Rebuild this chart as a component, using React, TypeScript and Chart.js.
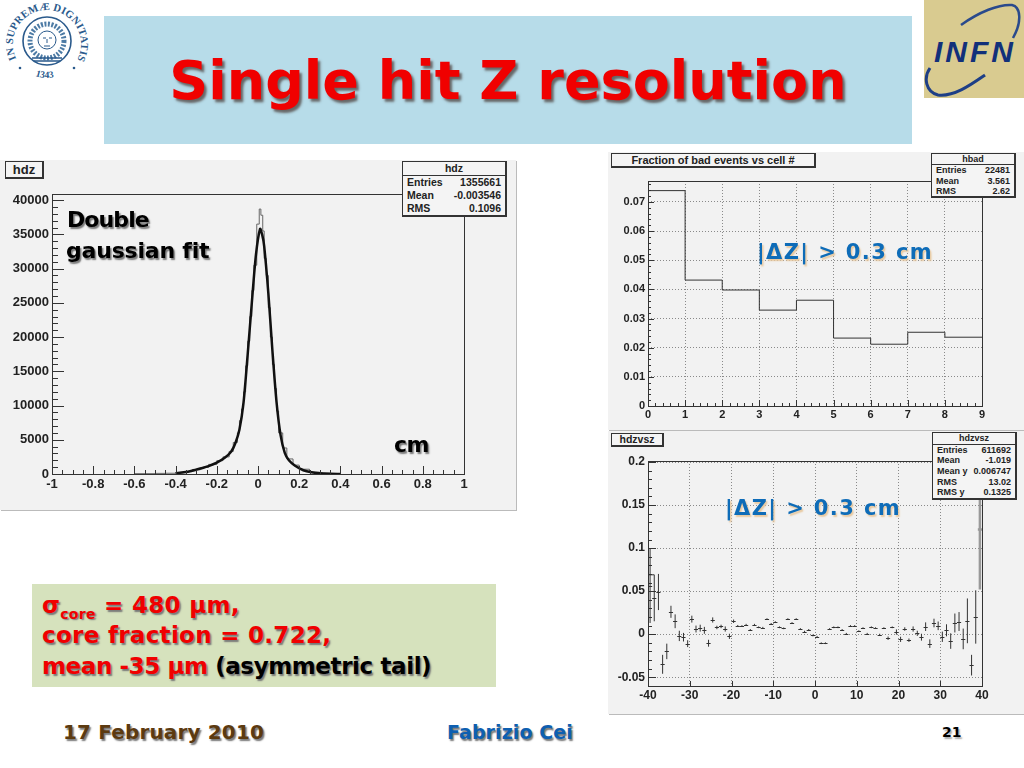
import React, { useEffect, useRef } from "react";
import { Chart, registerables } from "chart.js";

Chart.register(...registerables);

// ---- hdz: histogram and double gaussian fit
const hdzFitX = [-0.4, -0.36, -0.32, -0.28, -0.24, -0.2, -0.16, -0.13, -0.11, -0.09, -0.07, -0.05, -0.03, -0.01, 0.01, 0.02, 0.03, 0.05, 0.07, 0.09, 0.11, 0.13, 0.15, 0.18, 0.22, 0.26, 0.3, 0.35, 0.4];
const hdzFitY = [120, 250, 480, 800, 1150, 1650, 2400, 3300, 4500, 6500, 10500, 17500, 25000, 32000, 35800, 35000, 33300, 26500, 18000, 10500, 5600, 3100, 2000, 1200, 550, 250, 110, 40, 10];
const hdzHistX = [-0.6, -0.5, -0.45, -0.4, -0.36, -0.32, -0.28, -0.24, -0.2, -0.17, -0.14, -0.12, -0.1, -0.09, -0.08, -0.07, -0.06, -0.05, -0.04, -0.03, -0.02, -0.006, 0.006, 0.014, 0.023, 0.03, 0.04, 0.05, 0.06, 0.07, 0.08, 0.09, 0.1, 0.12, 0.14, 0.17, 0.2, 0.25, 0.3, 0.35, 0.4];
const hdzHistY = [50, 90, 110, 200, 350, 620, 950, 1400, 1950, 2500, 3300, 4600, 6000, 7800, 9500, 12000, 15800, 19400, 23000, 26800, 30500, 36500, 38700, 37800, 35500, 31500, 29000, 24300, 20000, 16000, 12500, 9200, 6000, 3800, 2200, 1300, 700, 250, 90, 30, 10];
const hdzYTicks = [0, 5000, 10000, 15000, 20000, 25000, 30000, 35000, 40000];
const hdzXTicks = [-1, -0.8, -0.6, -0.4, -0.2, 0, 0.2, 0.4, 0.6, 0.8, 1];

// ---- hbad: fraction of bad events per cell
const badCells = [0, 1, 2, 3, 4, 5, 6, 7, 8];
const badFractions = [0.0739, 0.0432, 0.0398, 0.0329, 0.0363, 0.0233, 0.0212, 0.0253, 0.0236];
const badYTicks = [0, 0.01, 0.02, 0.03, 0.04, 0.05, 0.06, 0.07];
const badXTicks = [0, 1, 2, 3, 4, 5, 6, 7, 8, 9];

// ---- hdzvsz: profile
const zCenters = [-39.5, -38.5, -37.5, -36.5, -35.5, -34.5, -33.5, -32.5, -31.5, -30.5, -29.5, -28.5, -27.5, -26.5, -25.5, -24.5, -23.5, -22.5, -21.5, -20.5, -19.5, -18.5, -17.5, -16.5, -15.5, -14.5, -13.5, -12.5, -11.5, -10.5, -9.5, -8.5, -7.5, -6.5, -5.5, -4.5, -3.5, -2.5, -1.5, -0.5, 0.5, 1.5, 2.5, 3.5, 4.5, 5.5, 6.5, 7.5, 8.5, 9.5, 10.5, 11.5, 12.5, 13.5, 14.5, 15.5, 16.5, 17.5, 18.5, 19.5, 20.5, 21.5, 22.5, 23.5, 24.5, 25.5, 26.5, 27.5, 28.5, 29.5, 30.5, 31.5, 32.5, 33.5, 34.5, 35.5, 36.5, 37.5, 38.5, 39.5];
const zMeans = [0.0565, 0.042, 0.049, -0.035, -0.02, 0.026, 0.015, -0.002, -0.0035, -0.011, 0.0175, 0.006, 0.007, 0.0045, -0.0105, 0.0165, 0.0078, 0.009, 0.006, -0.0025, 0.015, 0.0097, 0.0095, 0.011, 0.005, 0.011, 0.008, 0.0075, 0.0175, 0.012, 0.014, 0.008, 0.0068, 0.0175, 0.013, 0.0175, 0.006, 0.003, 0.005, -0.0015, -0.003, -0.0105, -0.0105, 0.006, 0.008, 0.008, 0.005, 0.0005, 0.0095, 0.0095, 0.0035, 0.007, 0.0005, 0.008, 0.007, -0.0005, 0.007, -0.0047, 0.008, 0.0025, -0.006, 0.006, -0.007, 0.006, 0.001, -0.0035, 0.0087, -0.011, 0.013, 0.0097, -0.003, 0.0045, -0.008, 0.013, 0.0147, -0.0055, 0.0155, -0.036, 0.02, 0.122];
const zErrors = [0.0435, 0.027, 0.021, 0.011, 0.009, 0.007, 0.008, 0.006, 0.005, 0.004, 0.004, 0.004, 0.004, 0.004, 0.004, 0.003, 0.002, 0.002, 0.003, 0.003, 0.002, 0.001, 0.001, 0.001, 0.001, 0.001, 0.001, 0.001, 0.001, 0.001, 0.001, 0.001, 0.001, 0.001, 0.001, 0.001, 0.001, 0.001, 0.001, 0.001, 0.001, 0.001, 0.001, 0.001, 0.001, 0.001, 0.001, 0.001, 0.001, 0.001, 0.001, 0.001, 0.001, 0.001, 0.001, 0.001, 0.001, 0.002, 0.001, 0.003, 0.003, 0.002, 0.002, 0.003, 0.003, 0.004, 0.005, 0.005, 0.005, 0.005, 0.006, 0.007, 0.009, 0.011, 0.011, 0.012, 0.026, 0.012, 0.031, 0.07];
const zYTicks = [-0.05, 0, 0.05, 0.1, 0.15, 0.2];
const zXTicks = [-40, -30, -20, -10, 0, 10, 20, 30, 40];
const zCapX = [-39.9, -38.5];
const zCapY = [0.069, 0.069];

// ---- texts
const hdzStats = [["Entries", "1355661"], ["Mean", "-0.003546"], ["RMS", "0.1096"]];
const badStats = [["Entries", "22481"], ["Mean", "3.561"], ["RMS", "2.62"]];
const zStats = [["Entries", "611692"], ["Mean", "-1.019"], ["Mean y", "0.006747"], ["RMS", "13.02"], ["RMS y", "0.1325"]];

const COMIC = '"DejaVu Sans", sans-serif';
const HELV = '"Liberation Sans", Arial, sans-serif';

const fmt = (v: any) => String(+(+v).toFixed(3));

const rootFrame = {
  id: "rootFrame",
  afterDatasetsDraw(chart: any, _a: any, o: any) {
    const { ctx, chartArea: a, scales } = chart;
    ctx.save();
    ctx.strokeStyle = "#333";
    ctx.lineWidth = 1;
    ctx.beginPath();
    const vline = (v: number, len: number) => {
      const p = Math.round(scales.x.getPixelForValue(v)) + 0.5;
      ctx.moveTo(p, a.bottom);
      ctx.lineTo(p, a.bottom - len);
    };
    const hline = (v: number, len: number) => {
      const p = Math.round(scales.y.getPixelForValue(v)) + 0.5;
      ctx.moveTo(a.left, p);
      ctx.lineTo(a.left + len, p);
    };
    for (const t of scales.x.ticks) vline(t.value, o.xMajor);
    for (const t of scales.y.ticks) hline(t.value, o.yMajor);
    if (o.xMinorStep) {
      const n = Math.round((scales.x.max - scales.x.min) / o.xMinorStep);
      for (let i = 0; i <= n; i++) vline(scales.x.min + i * o.xMinorStep, o.xMajor / 2);
    }
    if (o.yMinorStep) {
      const n = Math.floor((scales.y.max - o.yMinorBase) / o.yMinorStep);
      for (let i = 0; i <= n; i++) hline(o.yMinorBase + i * o.yMinorStep, o.yMajor / 2);
    }
    ctx.stroke();
    ctx.strokeRect(a.left + 0.5, a.top + 0.5, a.right - a.left, a.bottom - a.top);
    ctx.restore();
  },
};

const errorCrosses = {
  id: "errorCrosses",
  afterDatasetsDraw(chart: any, _a: any, o: any) {
    if (!o.enabled) return;
    const { ctx, scales, chartArea: a } = chart;
    ctx.save();
    ctx.beginPath();
    ctx.rect(a.left, a.top, a.right - a.left, a.bottom - a.top);
    ctx.clip();
    zCenters.forEach((c, i) => {
      const last = i === zCenters.length - 1;
      const x = scales.x.getPixelForValue(c);
      const xl = scales.x.getPixelForValue(c - 0.5);
      const xr = scales.x.getPixelForValue(c + 0.5);
      const y = Math.round(scales.y.getPixelForValue(zMeans[i])) + 0.5;
      const yt = scales.y.getPixelForValue(zMeans[i] + zErrors[i]);
      const yb = scales.y.getPixelForValue(zMeans[i] - zErrors[i]);
      ctx.strokeStyle = last ? "#999" : "#333";
      ctx.lineWidth = last ? 2.5 : 1;
      ctx.beginPath();
      ctx.moveTo(xl, y);
      ctx.lineTo(xr, y);
      ctx.moveTo(x, yt);
      ctx.lineTo(x, yb);
      ctx.stroke();
    });
    ctx.restore();
  },
};

function makeOptions(p: any) {
  const tickFont = { family: HELV, weight: "bold" as const, size: p.font };
  const grid = p.grid
    ? { display: true, drawTicks: false, color: "#8a8a8a", lineWidth: 1 }
    : { display: false, drawTicks: false };
  return {
    responsive: false,
    animation: false as const,
    devicePixelRatio: 1,
    layout: { autoPadding: false, padding: { top: p.top, right: p.w - p.right, left: 0, bottom: 0 } },
    plugins: {
      legend: { display: false },
      tooltip: { enabled: false },
      rootFrame: p.frame,
      errorCrosses: { enabled: !!p.crosses },
    },
    elements: { point: { radius: 0 } },
    scales: {
      x: {
        type: "linear" as const,
        min: p.xMin,
        max: p.xMax,
        afterBuildTicks: (s: any) => { s.ticks = p.xTicks.map((value: number) => ({ value })); },
        afterFit: (s: any) => { s.height = p.h - p.bottom; },
        grid: { ...grid },
        border: { display: false, dash: p.grid ? [1, 2] : undefined },
        ticks: { color: "#222", font: tickFont, padding: p.xPad, maxRotation: 0, autoSkip: false, callback: fmt },
      },
      y: {
        type: "linear" as const,
        min: p.yMin,
        max: p.yMax,
        afterBuildTicks: (s: any) => { s.ticks = p.yTicks.map((value: number) => ({ value })); },
        afterFit: (s: any) => { s.width = p.left; },
        grid: { ...grid },
        border: { display: false, dash: p.grid ? [1, 2] : undefined },
        ticks: { color: "#222", font: tickFont, padding: p.yPad, autoSkip: false, callback: fmt },
      },
    },
  };
}

function Plot({ pos, datasets, opts }: any) {
  const ref = useRef<HTMLCanvasElement | null>(null);
  useEffect(() => {
    const chart = new Chart(ref.current as any, {
      type: "line",
      data: { datasets },
      options: makeOptions({ ...opts, w: pos.w, h: pos.h }) as any,
      plugins: [rootFrame, errorCrosses],
    });
    return () => chart.destroy();
  }, []);
  return (
    <canvas
      ref={ref}
      width={pos.w}
      height={pos.h}
      style={{ position: "absolute", left: pos.x, top: pos.y, width: pos.w, height: pos.h, background: "#f2f2f2", boxShadow: "1px 1px 0 #bbb" }}
    />
  );
}

function Label({ x, y, w, h, text, fs = 13 }: any) {
  return (
    <div style={{ position: "absolute", left: x, top: y, width: w, height: h, boxSizing: "border-box", border: "1px solid #333", borderRightWidth: 2, borderBottomWidth: 2, background: "#f4f4f4", font: `bold ${fs}px ${HELV}`, color: "#222", textAlign: "center", lineHeight: `${h - 3}px` }}>
      {text}
    </div>
  );
}

function Stats({ x, y, w, title, rows, fs, rowH }: any) {
  return (
    <div style={{ position: "absolute", left: x, top: y, width: w, boxSizing: "border-box", border: "1px solid #333", borderRightWidth: 2, borderBottomWidth: 2, background: "#f4f4f4", font: `bold ${fs}px ${HELV}`, color: "#222" }}>
      <div style={{ textAlign: "center", height: rowH, lineHeight: `${rowH}px`, borderBottom: "1px solid #333" }}>{title}</div>
      {rows.map((r: string[]) => (
        <div key={r[0]} style={{ display: "flex", justifyContent: "space-between", padding: "0 4px", height: rowH, lineHeight: `${rowH}px` }}>
          <span>{r[0]}</span>
          <span>{r[1]}</span>
        </div>
      ))}
    </div>
  );
}

function Txt({ x, y, fs, color, children, shadow = "#777", ls = 0 }: any) {
  return (
    <div style={{ position: "absolute", left: x, top: y, font: `bold ${fs}px ${COMIC}`, color, whiteSpace: "nowrap", textShadow: `1.5px 1.5px 1.5px ${shadow}`, letterSpacing: ls, lineHeight: 1 }}>
      {children}
    </div>
  );
}

function Seal() {
  return (
    <svg style={{ position: "absolute", left: 5, top: 0 }} width="84" height="84" viewBox="0 0 84 84">
      <defs>
        <path id="sealArc" d="M 12 60 A 34 34 0 1 1 72 60" fill="none" />
        <path id="sealLow" d="M 26 74 A 34 34 0 0 0 58 74" fill="none" />
      </defs>
      <text fontFamily="'Liberation Serif', serif" fontSize="10.5" fontWeight="bold" fill="#2a5a8c">
        <textPath href="#sealArc" startOffset="1%" textLength="138">IN SUPREMÆ DIGNITATIS</textPath>
      </text>
      <text fontFamily="'Liberation Serif', serif" fontSize="9.5" fontWeight="bold" fill="#2a5a8c">
        <textPath href="#sealLow" startOffset="14%">1343</textPath>
      </text>
      <circle cx="42" cy="41" r="24" fill="none" stroke="#2a5a8c" strokeWidth="1.6" />
      <circle cx="42" cy="41" r="17" fill="none" stroke="#4d7ba5" strokeWidth="5" strokeDasharray="2 1.5" />
      <circle cx="42" cy="40" r="9" fill="#fff" stroke="#2a5a8c" strokeWidth="1" />
      <path d="M 38 38 h3 M 44 38 h3 M 42 39 v4 M 39 46 h6" stroke="#2a5a8c" strokeWidth="1" fill="none" />
      <path d="M 27 58 L 57 58 M 29 61 L 55 61" stroke="#2a5a8c" strokeWidth="1.4" />
      <circle cx="15" cy="68" r="1.3" fill="#2a5a8c" />
      <circle cx="69" cy="68" r="1.3" fill="#2a5a8c" />
    </svg>
  );
}

function InfnLogo() {
  return (
    <svg style={{ position: "absolute", left: 924, top: 0 }} width="100" height="98" viewBox="0 0 100 98">
      <rect x="0" y="0" width="100" height="98" fill="#d9cb90" />
      <path d="M 37 25 C 55 12, 75 4, 88 5 C 97 7, 98 22, 89 38" fill="none" stroke="#2a4a8c" strokeWidth="2.5" />
      <path d="M 6 68 C -1 78, 2 92, 14 95 C 30 97, 48 84, 61 75" fill="none" stroke="#1e3f86" strokeWidth="3" />
      <text x="51" y="62" textAnchor="middle" fontFamily="'Liberation Sans', sans-serif" fontStyle="italic" fontWeight="bold" fontSize="30" letterSpacing="3" fill="#12307a">INFN</text>
    </svg>
  );
}

const hdzPos = { x: 0, y: 160, w: 516, h: 350 };
const badPos = { x: 608, y: 152, w: 416, h: 278 };
const zPos = { x: 608, y: 431, w: 416, h: 283 };

const BLUE = "#0e6cb8";
const RED = "#f00000";

export default function App() {
  const xyOf = (xs: number[], ys: number[]) => xs.map((x, i) => ({ x, y: ys[i] }));
  const hdzData = [
    { data: xyOf(hdzFitX, hdzFitY), borderColor: "#111", borderWidth: 2.5, tension: 0.25, fill: false },
    { data: xyOf(hdzHistX, hdzHistY), borderColor: "#666", borderWidth: 1, stepped: "before", fill: false },
  ];
  const badData = [
    {
      data: xyOf([...badCells, 9], [...badFractions, badFractions[badFractions.length - 1]]),
      borderColor: "#333",
      borderWidth: 1,
      stepped: "before",
      fill: false,
    },
  ];
  const zData = [
    { data: xyOf(zCenters, zMeans), showLine: false, pointRadius: 0 },
    { data: xyOf(zCapX, zCapY), borderColor: "#333", borderWidth: 1, fill: false },
  ];

  return (
    <div style={{ position: "absolute", left: 0, top: 0, width: 1024, height: 768, overflow: "hidden", background: "#fff" }}>
      <Seal />
      <InfnLogo />
      <div style={{ position: "absolute", left: 104, top: 16, width: 808, height: 128, background: "#b7dce9" }} />
      <div style={{ position: "absolute", left: 104, top: 18, width: 808, height: 128, display: "flex", alignItems: "center", justifyContent: "center", font: `bold 54px ${COMIC}`, color: RED, textShadow: "2.5px 2.5px 2.5px #666", paddingBottom: 4, boxSizing: "border-box" }}>
        Single hit Z resolution
      </div>

      <Plot
        pos={hdzPos}
        datasets={hdzData}
        opts={{
          top: 34, right: 464, left: 52, bottom: 314, xMin: -1, xMax: 1, yMin: 0, yMax: 40900,
          xTicks: hdzXTicks, yTicks: hdzYTicks, grid: false, font: 13, xPad: 3, yPad: 3,
          frame: { xMajor: 8, yMajor: 12, xMinorStep: 0.05, yMinorStep: 1000, yMinorBase: 0 },
        }}
      />
      <Label x={5} y={161} w={39} h={18} text="hdz" />
      <Stats x={402} y={161} w={105} title="hdz" rows={hdzStats} fs={10.5} rowH={13} />
      <Txt x={67} y={209} fs={22} color="#000" ls={-0.9}>Double</Txt>
      <Txt x={66} y={240} fs={22} color="#000" ls={-0.2}>gaussian fit</Txt>
      <Txt x={394} y={434} fs={22} color="#000" ls={-0.5}>cm</Txt>

      <Plot
        pos={badPos}
        datasets={badData}
        opts={{
          top: 29, right: 374, left: 40, bottom: 254, xMin: 0, xMax: 9, yMin: 0, yMax: 0.0772,
          xTicks: badXTicks, yTicks: badYTicks, grid: true, font: 11, xPad: 2, yPad: 3,
          frame: { xMajor: 6, yMajor: 6, xMinorStep: 0.2, yMinorStep: 0.002, yMinorBase: 0 },
        }}
      />
      <Label x={611} y={153} w={205} h={15} text="Fraction of bad events vs cell #" fs={11} />
      <Stats x={931} y={153} w={85} title="hbad" rows={badStats} fs={9} rowH={10.25} />
      <Txt x={757} y={242} fs={21} color={BLUE} shadow="#e8c9a0" ls={1.4}>|ΔZ| &gt; 0.3 cm</Txt>

      <Plot
        pos={zPos}
        datasets={zData}
        opts={{
          top: 30, right: 374, left: 40, bottom: 255, xMin: -40, xMax: 40, yMin: -0.0602, yMax: 0.2012,
          xTicks: zXTicks, yTicks: zYTicks, grid: true, font: 12, xPad: 2, yPad: 3, crosses: true,
          frame: { xMajor: 5, yMajor: 8, xMinorStep: 0, yMinorStep: 0.01, yMinorBase: -0.06 },
        }}
      />
      <Label x={611} y={433} w={53} h={14} text="hdzvsz" fs={10.5} />
      <Stats x={932} y={432} w={85} title="hdzvsz" rows={zStats} fs={9} rowH={10.7} />
      <Txt x={725} y={498} fs={21} color={BLUE} shadow="#e8c9a0" ls={1.4}>|ΔZ| &gt; 0.3 cm</Txt>

      <div style={{ position: "absolute", left: 32, top: 584, width: 464, height: 103, background: "#d6e2bd" }} />
      <Txt x={42} y={594} fs={23} color={RED} ls={0.3}>
        σ<sub style={{ fontSize: 14, lineHeight: 0 }}>core</sub> = 480 μm,
      </Txt>
      <Txt x={42} y={624} fs={23} color={RED} ls={0.3}>core fraction = 0.722,</Txt>
      <Txt x={42} y={655} fs={23} color={RED} ls={-0.4}>
        mean -35 μm <span style={{ color: "#000" }}>(asymmetric tail)</span>
      </Txt>

      <Txt x={63} y={722} fs={20} color="#5c3a10" ls={0.15}>17 February 2010</Txt>
      <Txt x={447} y={723} fs={19} color="#0e5fb0" ls={0.1}>Fabrizio Cei</Txt>
      <Txt x={942} y={725} fs={14} color="#000" shadow="#aaa">21</Txt>
    </div>
  );
}
